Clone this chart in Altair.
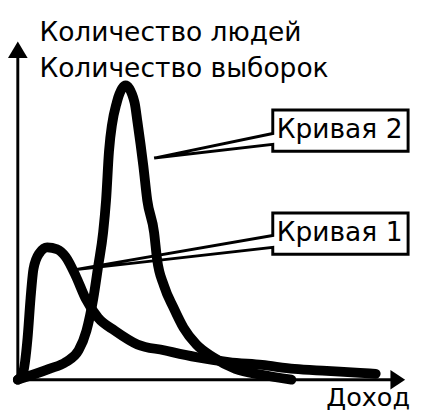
import altair as alt
import pandas as pd

# Curve values (x = income, y = count), origin at axes corner
c1_x = [0, 5, 10, 13, 16, 22, 30, 40, 49, 59, 69, 82, 99, 122, 149, 182, 215, 249, 282, 315, 349, 365]
c1_y = [0, 6, 43, 83, 113, 129, 135, 133, 125, 106, 83, 63, 50, 36, 30, 23, 18, 15, 11, 9, 7, 6]

c2_x = [0, 32, 49, 62, 70, 77, 82, 87, 90, 93, 101, 110, 119, 122, 128, 132, 139, 142, 149, 159, 169, 182, 199, 222, 249, 279]
c2_y = [0, 11, 18, 30, 50, 83, 116, 150, 183, 233, 283, 300, 283, 263, 218, 183, 150, 123, 96, 73, 53, 36, 23, 11, 5, 0]

# Callout boxes: tip on the curve, box extents, wedge attach points
labels = ["Кривая 1", "Кривая 2"]
tip_x = [57, 139]
tip_y = [112, 226]
box_left = [260, 260]
box_right = [398, 398]
box_top = [170, 275]
box_bottom = [128, 233]
wedge_hi = [147, 251]
wedge_lo = [135, 240]
text_y = [141, 246]

y_title = ["Количество людей", "Количество выборок"]
y_title_y = [345, 309]
x_title = "Доход"

xs = alt.Scale(domain=[-10, 403], nice=False, zero=False)
ys = alt.Scale(domain=[-34, 375], nice=False, zero=False)
X = lambda f="x": alt.X(f"{f}:Q", scale=xs, axis=None)
Y = lambda f="y": alt.Y(f"{f}:Q", scale=ys, axis=None)

rows = []
for name, xv, yv in (("1", c1_x, c1_y), ("2", c2_x, c2_y)):
    for i, (a, b) in enumerate(zip(xv, yv)):
        rows.append({"curve": name, "order": i, "x": a, "y": b})
curves_df = pd.DataFrame(rows)

curves = alt.Chart(curves_df).mark_line(
    interpolate="monotone", strokeWidth=10, strokeCap="round", strokeJoin="round", color="black"
).encode(x=X(), y=Y(), detail="curve:N", order="order:Q")

axes_df = pd.DataFrame({"x": [0, 0], "y": [0, 0], "x2": [0, 392], "y2": [330, 0]})
axes = alt.Chart(axes_df).mark_rule(strokeWidth=3, color="black").encode(
    x=X(), y=Y(), x2="x2:Q", y2="y2:Q"
)

arrow_up = alt.Chart(pd.DataFrame({"x": [0], "y": [336.5]})).mark_point(
    shape="M0,-1L1.18,1L-1.18,1Z", size=289, filled=True, color="black", opacity=1, strokeWidth=0
).encode(x=X(), y=Y())
arrow_right = alt.Chart(pd.DataFrame({"x": [387.5], "y": [0]})).mark_point(
    shape="M1,0L-1,-1.33L-1,1.33Z", size=225, filled=True, color="black", opacity=1, strokeWidth=0
).encode(x=X(), y=Y())

brows = []
for k in range(2):
    pts = [
        (tip_x[k], tip_y[k]),
        (box_left[k], wedge_hi[k]),
        (box_left[k], box_top[k]),
        (box_right[k], box_top[k]),
        (box_right[k], box_bottom[k]),
        (box_left[k], box_bottom[k]),
        (box_left[k], wedge_lo[k]),
        (tip_x[k], tip_y[k]),
    ]
    for i, (a, b) in enumerate(pts):
        brows.append({"box": labels[k], "order": i, "x": a, "y": b})
boxes = alt.Chart(pd.DataFrame(brows)).mark_line(
    strokeWidth=3, color="black", strokeJoin="miter"
).encode(x=X(), y=Y(), detail="box:N", order="order:Q")

tdf = pd.DataFrame({
    "x": [264, 264, 22, 22],
    "y": text_y + y_title_y,
    "t": labels + y_title,
})
texts = alt.Chart(tdf).mark_text(
    align="left", baseline="alphabetic", font="DejaVu Sans", fontSize=27, color="black"
).encode(x=X(), y=Y(), text="t:N")

xt = alt.Chart(pd.DataFrame({"x": [400], "y": [-27], "t": [x_title]})).mark_text(
    align="right", baseline="alphabetic", font="DejaVu Sans", fontSize=26, color="black"
).encode(x=X(), y=Y(), text="t:N")

chart = alt.layer(curves, axes, arrow_up, arrow_right, boxes, texts, xt).properties(
    width=413, height=409, autosize=alt.AutoSizeParams(type="none"), padding=0, background="white"
).configure_view(stroke=None)

chart.save("out.html", embed_options={"renderer": "svg", "actions": False})
